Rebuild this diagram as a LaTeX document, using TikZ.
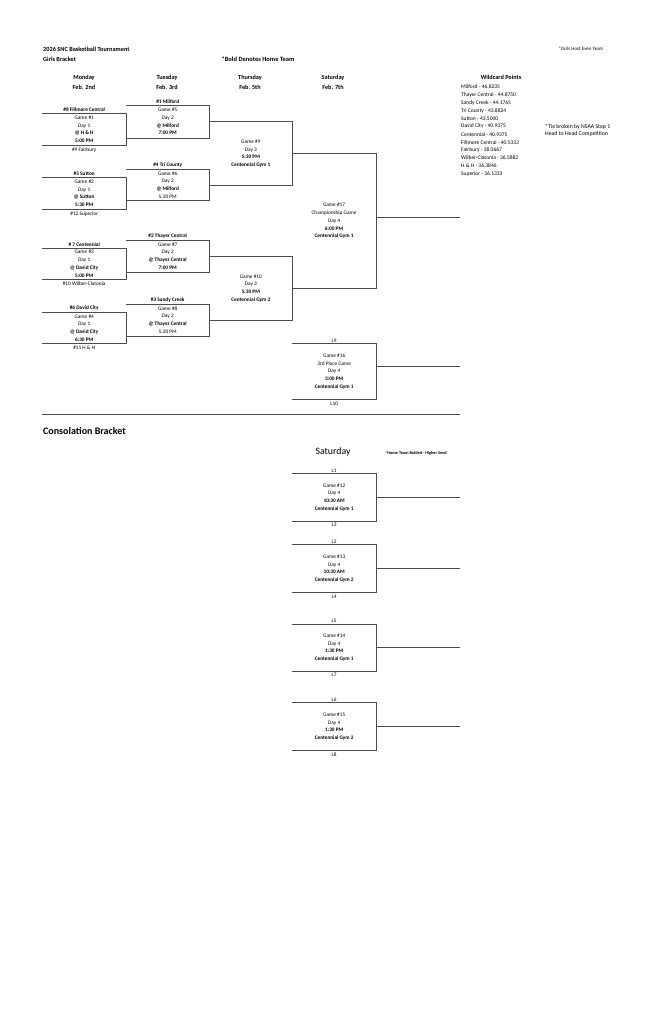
\documentclass[tikz,border=0pt]{standalone}
\usepackage{fontspec}
\setmainfont{Carlito}
\usetikzlibrary{positioning}

\begin{document}
\begin{tikzpicture}[x=1pt,y=-1pt,node distance=1pt]
		\tikzstyle{game} = [rectangle, anchor=north west, inner sep=0pt, align=center, 
		font=\fontsize{5.3}{7.7}\selectfont]
		\tikzstyle{team} = [inner sep=0pt, font=\fontsize{5.3}{6}\selectfont]
		\tikzstyle{home} = [team, font=\bfseries\fontsize{5.3}{6}\selectfont]
		\tikzstyle{day} = [align=center, inner sep=0pt, font=\bfseries\fontsize{6.2}{10}\selectfont]
		\tikzstyle{bracket} = [draw=black!70, line width=0.9pt]
		\fill[white] (0,0) rectangle (663,1024);
		\useasboundingbox (0,0) rectangle (663,1024);
		% header
		\node (title) [anchor=west, align=left, inner sep=0pt, font=\bfseries\fontsize{6.3}{10}\selectfont] at (43,54) {2026 SNC Basketball Tournament\\Girls Bracket};
		\node (boldnote) [inner sep=0pt, font=\bfseries\fontsize{6.5}{7}\selectfont] at (258,59) {*Bold Denotes Home Team};
		\node (hostnote) [inner sep=0pt, font=\fontsize{5}{6}\selectfont] at (581,49) {*Girls Host Even Years};
		\node (mon) [day] at (84,82) {Monday\\Feb. 2nd};
		\node (tue) [day] at (167,82) {Tuesday\\Feb. 3rd};
		\node (thu) [day] at (250,82) {Thursday\\Feb. 5th};
		\node (sat) [day] at (333,82) {Saturday\\Feb. 7th};
		% wildcard points
		\node (wildcard) [inner sep=0pt, font=\bfseries\fontsize{6.2}{7}\selectfont] at (501,77) {Wildcard Points};
		\foreach \t [count=\i from 0] in {Milford - 46.8235, Thayer Central - 44.8750, Sandy Creek - 44.1765,
			Tri County - 43.8824, Sutton - 43.5000, David City - 40.9375, Centennial - 40.9375,
			Fillmore Central - 40.5333, Fairbury - 38.0667, Wilber-Clatonia - 36.5882,
			{H \& H - 36.3846}, Superior - 36.1333}
			\node (wc\i) [anchor=west, inner sep=0pt, font=\fontsize{5.5}{6}\selectfont] at (461,87+7.9*\i) {\t};
		\node (tienote) [anchor=west, align=left, inner sep=0pt, font=\fontsize{5.8}{7}\selectfont] at (545,130.5) {*Tie broken by NSAA Step 1\\Head to Head Competition};
		% monday
		\node (g1) [game, minimum width=84pt, minimum height=32pt] at (42,113) {Game \#1\\Day 1\\\textbf{@ H \& H}\\\textbf{5:00 PM}};
		\node (g2) [game, minimum width=84pt, minimum height=32pt] at (42,177) {Game \#2\\Day 1\\\textbf{@ Sutton}\\\textbf{5:30 PM}};
		\node (g3) [game, minimum width=84pt, minimum height=31pt] at (42,248) {Game \#3\\Day 1\\\textbf{@ David City}\\\textbf{5:00 PM}};
		\node (g4) [game, minimum width=84pt, minimum height=31.5pt] at (42,312) {Game \#4\\Day 1\\\textbf{@ David City}\\\textbf{6:30 PM}};
		% tuesday
		\node (g5) [game, minimum width=83pt, minimum height=32.7pt] at (126,105) {Game \#5\\Day 2\\\textbf{@ Milford}\\\textbf{7:00 PM}};
		\node (g6) [game, minimum width=83pt, minimum height=31.3pt] at (126,169) {Game \#6\\Day 2\\\textbf{@ Milford}\\5:30 PM};
		\node (g7) [game, minimum width=83pt, minimum height=31.7pt] at (126,240) {Game \#7\\Day 2\\\textbf{@ Thayer Central}\\\textbf{7:00 PM}};
		\node (g8) [game, minimum width=83pt, minimum height=31.7pt] at (126,304) {Game \#8\\Day 2\\\textbf{@ Thayer Central}\\5:30 PM};
		% thursday
		\node (g9) [game, minimum width=83.3pt, minimum height=63.3pt] at (209,121.7) {Game \#9\\Day 3\\\textbf{5:30 PM}\\\textbf{Centennial Gym 1}};
		\node (g10) [game, minimum width=83.3pt, minimum height=64pt] at (209,256) {Game \#10\\Day 3\\\textbf{5:30 PM}\\\textbf{Centennial Gym 2}};
		% saturday
		\node (g17) [game, minimum width=83.7pt, minimum height=135pt] at (292,153.3) {Game \#17\\Championship Game\\Day 4\\\textbf{6:00 PM}\\\textbf{Centennial Gym 1}};
		\node (g16) [game, minimum width=84pt, minimum height=56pt] at (292,343.3) {Game \#16\\3rd Place Game\\Day 4\\\textbf{3:00 PM}\\\textbf{Centennial Gym 1}};
		% consolation
		\node (g12) [game, minimum width=84pt, minimum height=47.4pt] at (292,473.3) {Game \#12\\Day 4\\\textbf{10:30 AM}\\\textbf{Centennial Gym 1}};
		\node (g13) [game, minimum width=84pt, minimum height=47.6pt] at (292,544.7) {Game \#13\\Day 4\\\textbf{10:30 AM}\\\textbf{Centennial Gym 2}};
		\node (g14) [game, minimum width=84pt, minimum height=47pt] at (292,624) {Game \#14\\Day 4\\\textbf{1:30 PM}\\\textbf{Centennial Gym 1}};
		\node (g15) [game, minimum width=84pt, minimum height=47.3pt] at (292,702.7) {Game \#15\\Day 4\\\textbf{1:30 PM}\\\textbf{Centennial Gym 2}};
		% teams
		\node (t8) [home, above=of g1.north, anchor=south] {\#8 Fillmore Central};
		\node (t9) [team, below=1.8pt of g1.south, anchor=north] {\#9 Fairbury};
		\node (t5) [home, above=of g2.north, anchor=south] {\#5 Sutton};
		\node (t12) [team, below=1.8pt of g2.south, anchor=north] {\#12 Superior};
		\node (t7) [home, above=of g3.north, anchor=south] {\# 7 Centennial};
		\node (t10) [team, below=1.8pt of g3.south, anchor=north] {\#10 Wilber-Clatonia};
		\node (t6) [home, above=of g4.north, anchor=south] {\#6 David City};
		\node (t11) [team, below=1.8pt of g4.south, anchor=north] {\#11 H \& H};
		\node (t1) [home, above=of g5.north, anchor=south] {\#1 Milford};
		\node (t4) [home, above=of g6.north, anchor=south] {\#4 Tri County};
		\node (t2) [home, above=of g7.north, anchor=south] {\#2 Thayer Central};
		\node (t3) [home, above=of g8.north, anchor=south] {\#3 Sandy Creek};
		\node (l9) [team, above=of g16.north, anchor=south] {L9};
		\node (l10) [team, below=1.8pt of g16.south, anchor=north] {L10};
		\node (l1) [team, above=of g12.north, anchor=south] {L1};
		\node (l3) [team, below=1.8pt of g12.south, anchor=north] {L3};
		\node (l2) [team, above=of g13.north, anchor=south] {L2};
		\node (l4) [team, below=1.8pt of g13.south, anchor=north] {L4};
		\node (l5) [team, above=of g14.north, anchor=south] {L5};
		\node (l7) [team, below=1.8pt of g14.south, anchor=north] {L7};
		\node (l6) [team, above=of g15.north, anchor=south] {L6};
		\node (l8) [team, below=1.8pt of g15.south, anchor=north] {L8};
		% lower part
		\node (consol) [anchor=west, inner sep=0pt, font=\bfseries\fontsize{10}{12}\selectfont] at (43,431) {Consolation Bracket};
		\node (satc) [inner sep=0pt, font=\fontsize{9.8}{11}\selectfont] at (333,452) {Saturday};
		\node (seednote) [inner sep=0pt, font=\bfseries\fontsize{4.3}{5}\selectfont] at (416,453) {*Home Team Bolded - Higher Seed};
		\coordinate (champ) at (460,217);
		\coordinate (third) at (460,366.7);
		\coordinate (sepl) at (42,414);
		\coordinate (sepr) at (460,414);
		% bracket lines
		\foreach \g in {g1,g2,g3,g4,g5,g6,g7,g8,g9,g10,g17,g16,g12,g13,g14,g15}
			\draw [bracket] (\g.north west) -| (\g.south east) -- (\g.south west);
		\draw [bracket] (g17.east |- champ) -- (champ);
		\draw [bracket] (g16.east |- third) -- (third);
		\foreach \g in {g12,g13,g14,g15}
			\draw [bracket] (\g.east) -- ++(84,0);
		\draw [bracket] (sepl) -- (sepr);
		\end{tikzpicture}
\end{document}
